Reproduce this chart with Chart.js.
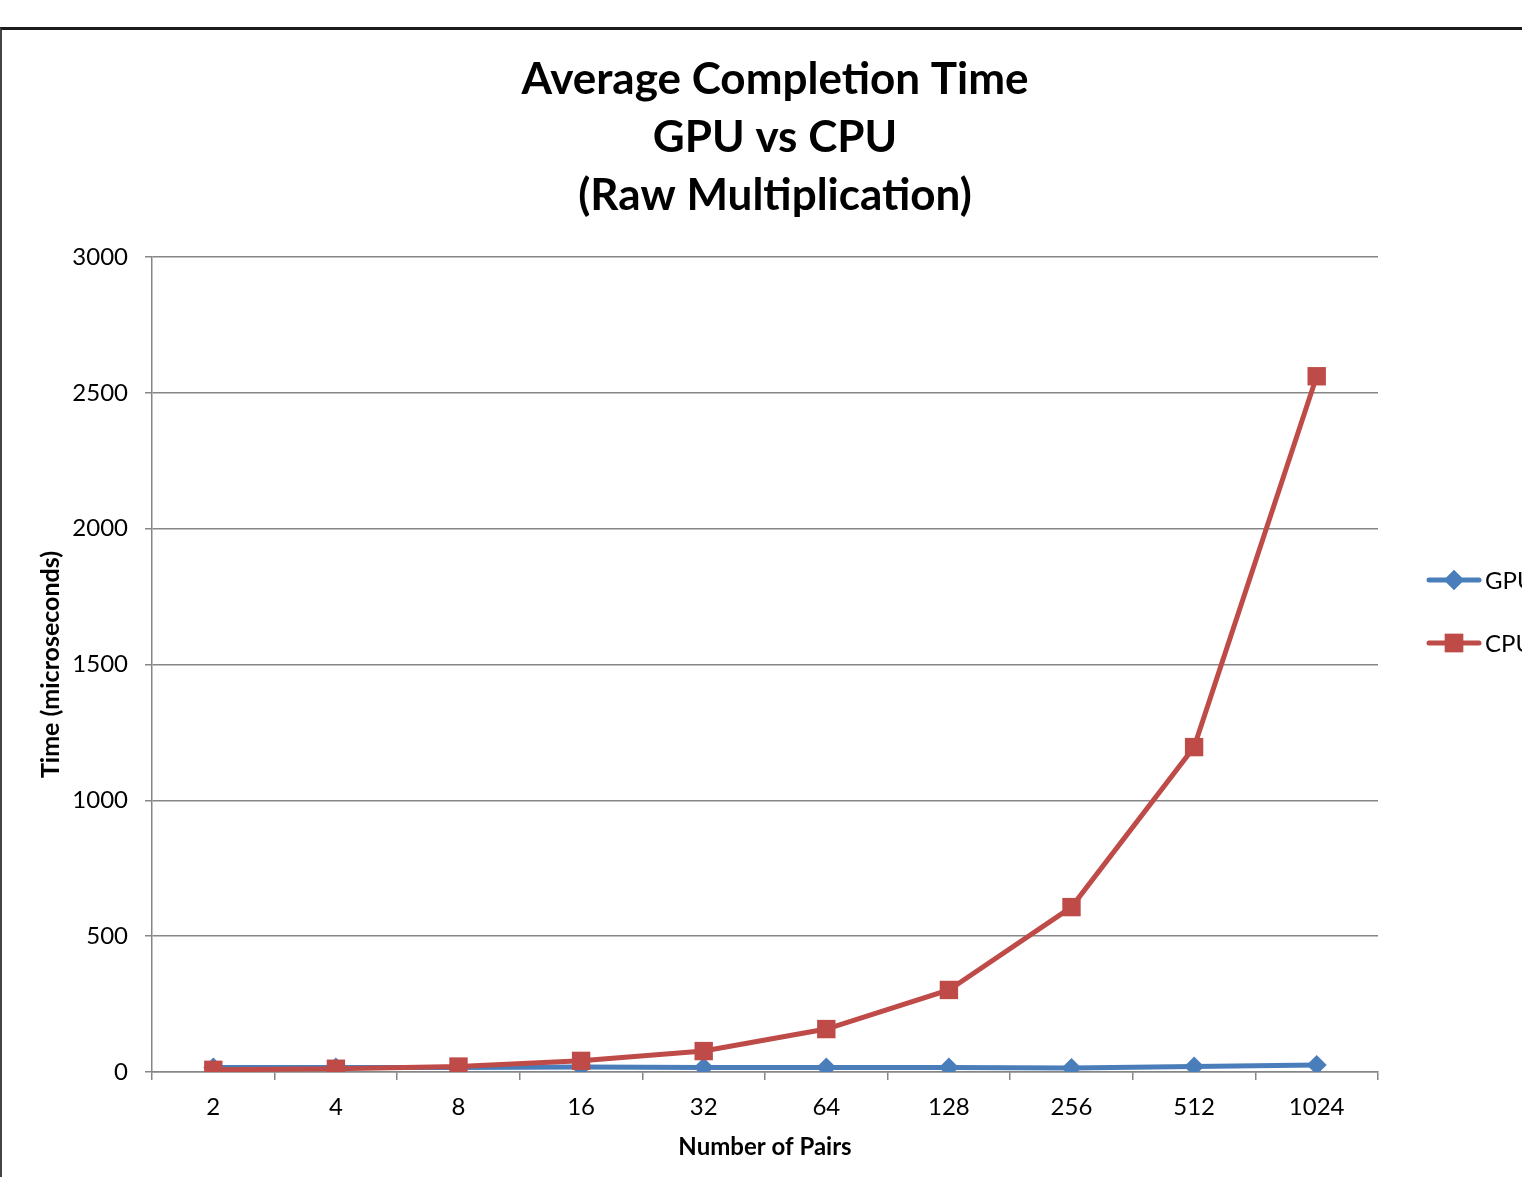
<!DOCTYPE html>
<html>
<head>
<meta charset="utf-8">
<title>Average Completion Time GPU vs CPU</title>
<script src="https://cdn.jsdelivr.net/npm/chart.js@4.4.1/dist/chart.umd.min.js"></script>
<style>
  html, body { margin: 0; padding: 0; background: #fff; overflow: hidden; }
  #wrap { position: relative; width: 1522px; height: 1177px; }
  #frame {
    position: absolute; left: 0; top: 27px; width: 1600px; height: 1300px;
    border-top: 3px solid #1c1c1c; border-left: 2px solid #444;
    box-sizing: border-box; pointer-events: none;
  }
  canvas { position: absolute; left: 0; top: 0; }
</style>
</head>
<body>
<div id="wrap">
  <canvas id="chart" width="1522" height="1177"></canvas>
  <div id="frame"></div>
</div>
<script>
// data
const pairs = ["2", "4", "8", "16", "32", "64", "128", "256", "512", "1024"];
const gpuTime = [17, 17, 17, 18, 17, 17, 17, 15, 20, 26];
const cpuTime = [8, 12, 20, 41, 77, 158, 302, 607, 1196, 2561];
const yTicks = [0, 500, 1000, 1500, 2000, 2500, 3000];
const titleLines = ["Average Completion Time", "GPU vs CPU", "(Raw Multiplication)"];

const FONT = "Lato, 'Open Sans', sans-serif";
const BLUE = "#4a7ebb";
const RED = "#be4b48";

// title + cut-off legend on the right, drawn like the Excel original
const decor = {
  id: "decor",
  afterDraw(chart) {
    const ctx = chart.ctx;
    ctx.save();
    ctx.fillStyle = "#000";
    ctx.font = "bold 44px " + FONT;
    ctx.textAlign = "center";
    ctx.textBaseline = "middle";
    titleLines.forEach((t, i) => ctx.fillText(t, 775, 80 + i * 58));

    const items = [
      { label: "GPU", color: BLUE, style: "rectRot", r: 10, y: 580 },
      { label: "CPU", color: RED, style: "rect", r: 13, y: 643 },
    ];
    ctx.font = "24px " + FONT;
    ctx.textAlign = "left";
    items.forEach((it) => {
      ctx.strokeStyle = it.color;
      ctx.lineWidth = 5;
      ctx.lineCap = "round";
      ctx.beginPath();
      ctx.moveTo(1429, it.y);
      ctx.lineTo(1479, it.y);
      ctx.stroke();
      ctx.fillStyle = it.color;
      Chart.helpers.drawPoint(ctx, { pointStyle: it.style, radius: it.r, rotation: 0, borderWidth: 0 }, 1454, it.y);
      ctx.fill();
      ctx.fillStyle = "#000";
      ctx.fillText(it.label, 1485, it.y + 1);
    });
    ctx.restore();
  },
};

const chart = new Chart(document.getElementById("chart"), {
  type: "line",
  data: {
    labels: pairs,
    datasets: [
      {
        label: "GPU",
        data: gpuTime,
        order: 2,
        borderColor: BLUE,
        backgroundColor: BLUE,
        borderWidth: 5,
        pointStyle: "rectRot",
        pointRadius: 10,
        pointBorderWidth: 0,
        tension: 0,
      },
      {
        label: "CPU",
        data: cpuTime,
        order: 1,
        borderColor: RED,
        backgroundColor: RED,
        borderWidth: 5,
        pointStyle: "rect",
        pointRadius: 13,
        pointBorderWidth: 0,
        tension: 0,
      },
    ],
  },
  options: {
    responsive: false,
    animation: false,
    layout: { padding: { top: 257, right: 144, bottom: 0, left: 0 } },
    plugins: {
      legend: { display: false },
      title: { display: false },
      tooltip: { enabled: false },
    },
    scales: {
      x: {
        offset: true,
        grid: {
          offset: true,
          drawOnChartArea: false,
          drawTicks: true,
          tickLength: 8,
          color: "#868686",
          lineWidth: 1.5,
        },
        border: { color: "#868686", width: 1.5 },
        ticks: { color: "#000", font: { family: FONT, size: 24 }, padding: 13, maxRotation: 0 },
        title: {
          display: true,
          text: "Number of Pairs",
          color: "#000",
          font: { family: FONT, size: 24, weight: "bold" },
          padding: { top: 0, bottom: 15 },
        },
        afterFit(scale) { scale.height = 105; },
      },
      y: {
        min: 0,
        max: 3000,
        afterBuildTicks(scale) { scale.ticks = yTicks.map((v) => ({ value: v })); },
        grid: { color: "#868686", lineWidth: 1.5, tickLength: 7 },
        border: { color: "#868686", width: 1.5 },
        ticks: {
          color: "#000",
          font: { family: FONT, size: 24 },
          padding: 17,
          callback: (v) => String(v),
        },
        title: {
          display: true,
          text: "Time (microseconds)",
          color: "#000",
          font: { family: FONT, size: 25, weight: "bold" },
          padding: { top: 36, bottom: 0 },
        },
        afterFit(scale) { scale.width = 152; },
      },
    },
  },
  plugins: [decor],
});
</script>
</body>
</html>
